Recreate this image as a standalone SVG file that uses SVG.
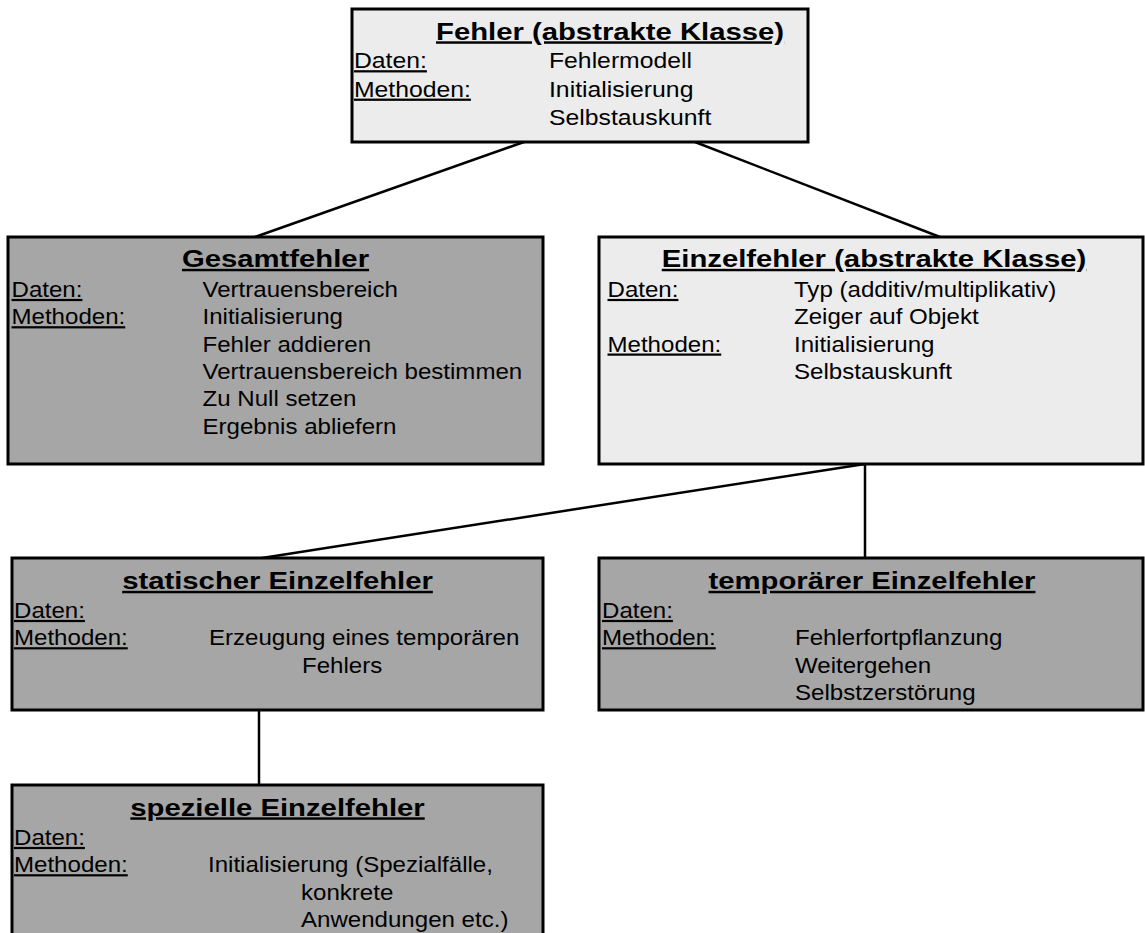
<svg xmlns="http://www.w3.org/2000/svg" width="1145" height="933" viewBox="0 0 1145 933">
<style>
.box{stroke:#000;stroke-width:3}
.light{fill:#ececec}
.dark{fill:#a6a6a6}
.t{font-family:"Liberation Sans",Arial,Helvetica,sans-serif;font-size:24.5px;font-weight:bold;text-decoration:underline;fill:#000}
.b{font-family:"Liberation Sans",Arial,Helvetica,sans-serif;font-size:22px;fill:#000}
.bt{font-family:"Liberation Sans",Arial,Helvetica,sans-serif;font-size:22.5px;fill:#000}
.u{text-decoration:underline}
.m{text-anchor:middle}
.conn line{stroke:#000;stroke-width:2.5;fill:none}
</style>
<rect width="1145" height="933" fill="#fff"/>
<g id="connectors" class="conn">
<line x1="524" y1="142" x2="255" y2="237"/>
<line x1="695" y1="142" x2="940" y2="237"/>
<line x1="865" y1="464" x2="262" y2="558"/>
<line x1="865" y1="464" x2="865" y2="558"/>
<line x1="259" y1="710" x2="259" y2="785"/>
</g>
<g id="fehler">
<rect class="box light" x="352" y="9" width="456" height="133"/>
<text class="t" transform="matrix(1.195 0 0 1 436 39.5)">Fehler (abstrakte Klasse)</text>
<text class="bt u" transform="matrix(1.1 0 0 1 354 68.3)">Daten:</text>
<text class="bt" transform="matrix(1.1 0 0 1 549 68.3)">Fehlermodell</text>
<text class="bt u" transform="matrix(1.1 0 0 1 354 96.7)">Methoden:</text>
<text class="bt" transform="matrix(1.1 0 0 1 549 96.7)">Initialisierung</text>
<text class="bt" transform="matrix(1.1 0 0 1 549 125)">Selbstauskunft</text>
</g>
<g id="gesamtfehler">
<rect class="box dark" x="8" y="237" width="535" height="227"/>
<text class="t m" transform="matrix(1.195 0 0 1 275.5 267)">Gesamtfehler</text>
<text class="b u" transform="matrix(1.095 0 0 1 11.5 297)">Daten:</text>
<text class="b u" transform="matrix(1.095 0 0 1 11.5 324.3)">Methoden:</text>
<text class="b" transform="matrix(1.095 0 0 1 202.5 297)">Vertrauensbereich</text>
<text class="b" transform="matrix(1.095 0 0 1 202.5 324.3)">Initialisierung</text>
<text class="b" transform="matrix(1.095 0 0 1 202.5 351.6)">Fehler addieren</text>
<text class="b" transform="matrix(1.095 0 0 1 202.5 378.9)">Vertrauensbereich bestimmen</text>
<text class="b" transform="matrix(1.095 0 0 1 202.5 406.2)">Zu Null setzen</text>
<text class="b" transform="matrix(1.095 0 0 1 202.5 433.5)">Ergebnis abliefern</text>
</g>
<g id="einzelfehler">
<rect class="box light" x="599" y="237" width="544" height="227"/>
<text class="t m" transform="matrix(1.195 0 0 1 874 267)">Einzelfehler (abstrakte Klasse)</text>
<text class="b u" transform="matrix(1.095 0 0 1 607.5 297)">Daten:</text>
<text class="b" transform="matrix(1.095 0 0 1 794 297)">Typ (additiv/multiplikativ)</text>
<text class="b" transform="matrix(1.095 0 0 1 794 324.3)">Zeiger auf Objekt</text>
<text class="b u" transform="matrix(1.095 0 0 1 607.5 351.6)">Methoden:</text>
<text class="b" transform="matrix(1.095 0 0 1 794 351.6)">Initialisierung</text>
<text class="b" transform="matrix(1.095 0 0 1 794 378.9)">Selbstauskunft</text>
</g>
<g id="statischer">
<rect class="box dark" x="12" y="558" width="531" height="152"/>
<text class="t m" transform="matrix(1.195 0 0 1 277.5 589)">statischer Einzelfehler</text>
<text class="b u" transform="matrix(1.095 0 0 1 14 618)">Daten:</text>
<text class="b u" transform="matrix(1.095 0 0 1 14 645.3)">Methoden:</text>
<text class="b" transform="matrix(1.095 0 0 1 209 645.3)">Erzeugung eines temporären</text>
<text class="b" transform="matrix(1.095 0 0 1 302 672.6)">Fehlers</text>
</g>
<g id="temporaerer">
<rect class="box dark" x="599" y="558" width="544" height="152"/>
<text class="t m" transform="matrix(1.195 0 0 1 872 589)">temporärer Einzelfehler</text>
<text class="b u" transform="matrix(1.095 0 0 1 602 618)">Daten:</text>
<text class="b u" transform="matrix(1.095 0 0 1 602 645.3)">Methoden:</text>
<text class="b" transform="matrix(1.095 0 0 1 795 645.3)">Fehlerfortpflanzung</text>
<text class="b" transform="matrix(1.095 0 0 1 795 672.6)">Weitergehen</text>
<text class="b" transform="matrix(1.095 0 0 1 795 699.9)">Selbstzerstörung</text>
</g>
<g id="spezielle">
<rect class="box dark" x="12" y="785" width="531" height="170"/>
<text class="t m" transform="matrix(1.195 0 0 1 277.5 815.5)">spezielle Einzelfehler</text>
<text class="b u" transform="matrix(1.095 0 0 1 14 845)">Daten:</text>
<text class="b u" transform="matrix(1.095 0 0 1 14 872.3)">Methoden:</text>
<text class="b" transform="matrix(1.095 0 0 1 208 872.3)">Initialisierung (Spezialfälle,</text>
<text class="b" transform="matrix(1.095 0 0 1 301 899.6)">konkrete</text>
<text class="b" transform="matrix(1.095 0 0 1 301 926.9)">Anwendungen etc.)</text>
</g>
</svg>
